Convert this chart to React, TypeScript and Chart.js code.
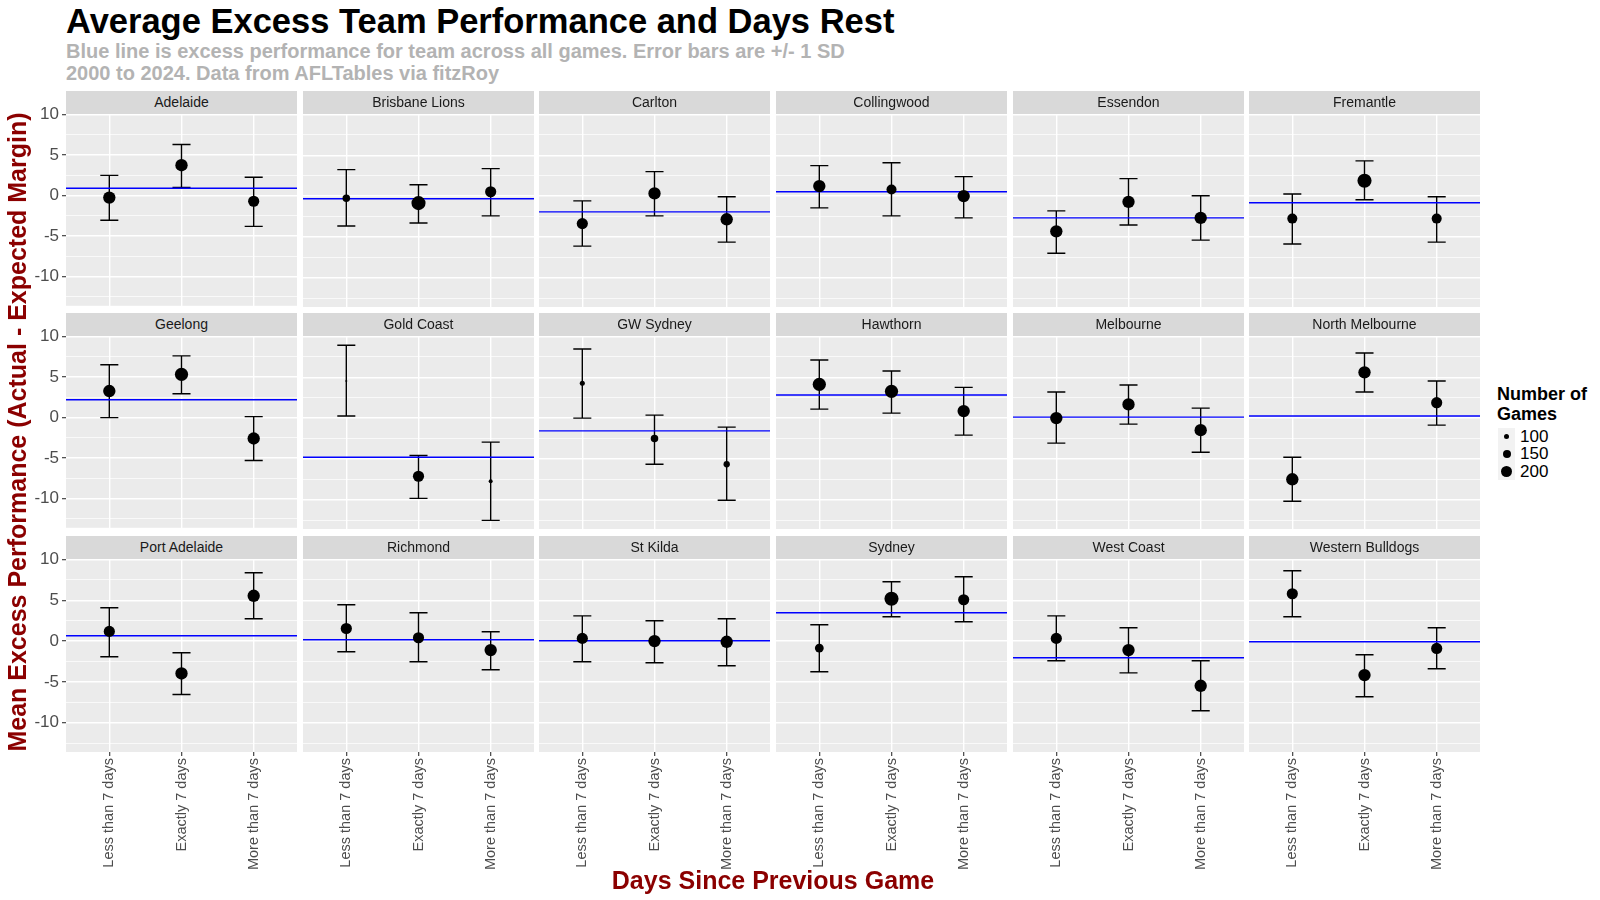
import React, { useEffect, useRef } from 'react';
import { Chart, registerables } from 'chart.js';

Chart.register(...registerables);

// ---------------- DATA ----------------
const teams = [
  'Adelaide', 'Brisbane Lions', 'Carlton', 'Collingwood', 'Essendon', 'Fremantle',
  'Geelong', 'Gold Coast', 'GW Sydney', 'Hawthorn', 'Melbourne', 'North Melbourne',
  'Port Adelaide', 'Richmond', 'St Kilda', 'Sydney', 'West Coast', 'Western Bulldogs',
];
const categories = ['Less than 7 days', 'Exactly 7 days', 'More than 7 days'];

// blue line: excess performance for team across all games
const teamAverage = [0.9, -0.33, -1.93, 0.53, -2.67, -0.82, 2.21, -4.8, -1.56, 2.83, 0.12, 0.25, 0.65, 0.16, 0.04, 3.48, -2.04, -0.08];

// mean excess performance by days rest
const meanLess = [-0.25, -0.25, -3.37, 1.23, -4.32, -2.76, 3.28, 4.55, 4.26, 4.14, 0.0, -7.5, 1.19, 1.55, 0.33, -0.86, 0.33, 5.81];
const meanExactly = [3.75, -0.86, 0.33, 0.82, -0.7, 1.89, 5.33, -7.13, -2.5, 3.28, 1.68, 5.61, -3.97, 0.41, 0.0, 5.19, -1.1, -4.17];
const meanMore = [-0.7, 0.53, -2.84, 0.0, -2.67, -2.76, -2.58, -7.75, -5.66, 0.86, -1.48, 1.89, 5.56, -1.1, -0.08, 5.07, -5.48, -0.9];

// error bar bounds
const lowLess = [-3.05, -3.66, -6.13, -1.44, -7.0, -5.88, 0.0, 0.25, 0.0, 1.1, -3.07, -10.2, -1.92, -1.31, -2.54, -3.76, -2.41, 2.99];
const highLess = [2.5, 3.25, -0.58, 3.74, -1.81, 0.25, 6.52, 8.93, 8.48, 7.13, 3.2, -4.8, 4.09, 4.46, 3.1, 2.0, 3.1, 8.63];
const lowExactly = [1.0, -3.3, -2.43, -2.43, -3.54, -0.45, 2.95, -9.84, -5.66, 0.61, -0.74, 3.2, -6.54, -2.54, -2.66, 2.99, -3.89, -6.83];
const highExactly = [6.3, 1.4, 3.0, 4.1, 2.14, 4.32, 7.62, -4.59, 0.37, 5.78, 4.06, 7.99, -1.43, 3.48, 2.5, 7.28, 1.64, -1.68];
const lowMore = [-3.8, -2.43, -5.64, -2.67, -5.4, -5.64, -5.29, -12.54, -10.08, -2.09, -4.18, -0.86, 2.74, -3.52, -3.03, 2.37, -8.55, -3.39];
const highMore = [2.26, 3.37, -0.08, 2.39, 0.04, -0.08, 0.12, -2.95, -1.1, 3.77, 1.23, 4.55, 8.38, 1.15, 2.74, 7.89, -2.41, 1.64];

// number of games
const gamesLess = [228, 135, 205, 228, 228, 183, 228, 29, 87, 245, 228, 228, 205, 205, 205, 160, 205, 205];
const gamesExactly = [228, 262, 228, 183, 228, 262, 245, 205, 135, 245, 228, 228, 228, 205, 228, 262, 228, 228];
const gamesMore = [205, 205, 228, 228, 228, 183, 228, 67, 112, 228, 228, 205, 228, 228, 228, 205, 228, 205];

const yTickValues = [-12.5, -10, -7.5, -5, -2.5, 0, 2.5, 5, 7.5, 10];
const xTickValues = [1, 2, 3];
const legendGames = [100, 150, 200];

// ---------------- STYLE / LAYOUT ----------------
const FONT = '"Liberation Sans", Arial, Helvetica, sans-serif';
const COL_LEFT = [66, 303, 539, 776, 1013, 1249];
const ROW_TOP = [114, 336, 559];
const PW = 231;
const PH = 193;
const STRIP = 23;
const YAXIS_W = 66;
const XAXIS_H = 148;
const Y_MIN = -13.6;
const Y_MAX = 10.07;

const diameter = (n: number) => 0.5 + 0.052 * n;

function Panel({ index }: { index: number }) {
  const ref = useRef<HTMLCanvasElement | null>(null);
  const row = Math.floor(index / 6);
  const col = index % 6;
  const left = col === 0 ? 0 : COL_LEFT[col];
  const width = (col === 0 ? YAXIS_W : 0) + PW;
  const bottomPad = row < 2 && col === 0 ? 12 : 0;
  const height = STRIP + PH + (row === 2 ? XAXIS_H : bottomPad);

  useEffect(() => {
    if (!ref.current) return;
    const means = [meanLess[index], meanExactly[index], meanMore[index]];
    const lows = [lowLess[index], lowExactly[index], lowMore[index]];
    const highs = [highLess[index], highExactly[index], highMore[index]];
    const games = [gamesLess[index], gamesExactly[index], gamesMore[index]];
    const avg = teamAverage[index];

    const bgPlugin = {
      id: 'panelBg',
      beforeDraw(chart: any) {
        const { ctx, chartArea } = chart;
        ctx.save();
        ctx.fillStyle = '#EBEBEB';
        ctx.fillRect(chartArea.left, chartArea.top, chartArea.right - chartArea.left, chartArea.bottom - chartArea.top);
        ctx.restore();
      },
    };

    const errorBarPlugin = {
      id: 'errorBars',
      beforeDatasetsDraw(chart: any) {
        const { ctx } = chart;
        const xs = chart.scales.x;
        const ys = chart.scales.y;
        const half = xs.getPixelForValue(1.125) - xs.getPixelForValue(1);
        ctx.save();
        ctx.strokeStyle = '#000000';
        ctx.lineWidth = 1.4;
        for (let i = 0; i < 3; i++) {
          const px = xs.getPixelForValue(i + 1);
          const yl = ys.getPixelForValue(lows[i]);
          const yh = ys.getPixelForValue(highs[i]);
          ctx.beginPath();
          ctx.moveTo(px, yl);
          ctx.lineTo(px, yh);
          ctx.moveTo(px - half, yl);
          ctx.lineTo(px + half, yl);
          ctx.moveTo(px - half, yh);
          ctx.lineTo(px + half, yh);
          ctx.stroke();
        }
        ctx.restore();
      },
    };

    const isMajor = (ctx: any) => ctx.tick && Math.abs(ctx.tick.value % 5) < 1e-9;

    const chart = new Chart(ref.current, {
      type: 'scatter',
      data: {
        datasets: [
          {
            type: 'scatter',
            data: means.map((y, i) => ({ x: xTickValues[i], y })),
            pointRadius: games.map((g) => diameter(g) / 2),
            pointHoverRadius: games.map((g) => diameter(g) / 2),
            backgroundColor: '#000000',
            borderWidth: 0,
          } as any,
          {
            type: 'line',
            data: [{ x: 0.4, y: avg }, { x: 3.6, y: avg }],
            borderColor: '#0000FF',
            borderWidth: 1.4,
            pointRadius: 0,
            fill: false,
          } as any,
        ],
      },
      options: {
        animation: false,
        responsive: false,
        events: [],
        layout: { autoPadding: false, padding: { top: STRIP, bottom: bottomPad, left: 0, right: 0 } },
        plugins: { legend: { display: false }, tooltip: { enabled: false }, title: { display: false } },
        scales: {
          x: {
            type: 'linear',
            min: 0.4,
            max: 3.6,
            afterBuildTicks: (s: any) => { s.ticks = xTickValues.map((v) => ({ value: v })); },
            afterFit: (s: any) => { s.height = row === 2 ? XAXIS_H : 0; },
            border: { display: false },
            grid: {
              color: '#FFFFFF',
              lineWidth: 1.4,
              drawTicks: row === 2,
              tickLength: 4,
              tickColor: '#333333',
              tickWidth: 1.1,
            },
            ticks: {
              display: row === 2,
              autoSkip: false,
              maxRotation: 90,
              minRotation: 90,
              padding: 2,
              color: '#4D4D4D',
              font: { family: FONT, size: 14.5 },
              callback: (v: any) => categories[Math.round(Number(v)) - 1] ?? '',
            },
          },
          y: {
            type: 'linear',
            min: Y_MIN,
            max: Y_MAX,
            afterBuildTicks: (s: any) => { s.ticks = yTickValues.map((v) => ({ value: v })); },
            afterFit: (s: any) => { s.width = col === 0 ? YAXIS_W : 0; },
            border: { display: false },
            grid: {
              color: '#FFFFFF',
              lineWidth: (ctx: any) => (isMajor(ctx) ? 1.4 : 0.7),
              drawTicks: col === 0,
              tickLength: 4,
              tickColor: (ctx: any) => (isMajor(ctx) ? '#333333' : 'rgba(0,0,0,0)'),
              tickWidth: 1.1,
            },
            ticks: {
              display: col === 0,
              autoSkip: false,
              padding: 3,
              color: '#4D4D4D',
              font: { family: FONT, size: 17 },
              callback: (v: any) => (Math.abs(Number(v) % 5) < 1e-9 ? String(v) : ''),
            },
          },
        },
      } as any,
      plugins: [bgPlugin, errorBarPlugin],
    });
    return () => chart.destroy();
  }, [index]);

  return (
    <canvas
      ref={ref}
      width={width}
      height={height}
      style={{ position: 'absolute', left, top: ROW_TOP[row] - STRIP, width, height }}
    />
  );
}

export default function App() {
  return (
    <div
      style={{
        position: 'absolute',
        left: 0,
        top: 0,
        width: 1600,
        height: 900,
        background: '#FFFFFF',
        overflow: 'hidden',
        fontFamily: FONT,
      }}
    >
      <div style={{ position: 'absolute', left: 66, top: 4, fontSize: 34.5, lineHeight: '34.5px', fontWeight: 'bold', color: '#000000', whiteSpace: 'nowrap' }}>
        Average Excess Team Performance and Days Rest
      </div>
      <div style={{ position: 'absolute', left: 66, top: 40, fontSize: 20, lineHeight: '22px', fontWeight: 'bold', color: '#B3B3B3', whiteSpace: 'nowrap' }}>
        Blue line is excess performance for team across all games. Error bars are +/- 1 SD
        <br />
        2000 to 2024. Data from AFLTables via fitzRoy
      </div>

      {teams.map((_, i) => (
        <Panel key={i} index={i} />
      ))}

      {teams.map((t, i) => {
        const row = Math.floor(i / 6);
        const col = i % 6;
        return (
          <div
            key={'s' + i}
            style={{
              position: 'absolute',
              left: COL_LEFT[col],
              top: ROW_TOP[row] - STRIP,
              width: PW,
              height: STRIP,
              background: '#D9D9D9',
              color: '#1A1A1A',
              fontSize: 14,
              lineHeight: STRIP + 'px',
              textAlign: 'center',
              whiteSpace: 'nowrap',
            }}
          >
            {t}
          </div>
        );
      })}

      <div
        style={{
          position: 'absolute',
          left: 17 - 350,
          top: 432 - 15,
          width: 700,
          height: 30,
          lineHeight: '30px',
          textAlign: 'center',
          fontSize: 25,
          fontWeight: 'bold',
          color: '#8B0000',
          whiteSpace: 'nowrap',
          transform: 'rotate(-90deg)',
          transformOrigin: '50% 50%',
        }}
      >
        Mean Excess Performance (Actual - Expected Margin)
      </div>
      <div
        style={{
          position: 'absolute',
          left: 773 - 300,
          top: 865,
          width: 600,
          lineHeight: '30px',
          textAlign: 'center',
          fontSize: 25,
          fontWeight: 'bold',
          color: '#8B0000',
          whiteSpace: 'nowrap',
        }}
      >
        Days Since Previous Game
      </div>

      <div style={{ position: 'absolute', left: 1497, top: 385, fontSize: 18, lineHeight: '19.5px', fontWeight: 'bold', color: '#000000', whiteSpace: 'nowrap' }}>
        Number of
        <br />
        Games
      </div>
      {legendGames.map((g, i) => {
        const d = diameter(g);
        const top = 428 + i * 17.3;
        return (
          <React.Fragment key={'l' + g}>
            <div style={{ position: 'absolute', left: 1498, top, width: 17.3, height: 17.3, background: '#F2F2F2' }} />
            <div
              style={{
                position: 'absolute',
                left: 1498 + 8.65 - d / 2,
                top: top + 8.65 - d / 2,
                width: d,
                height: d,
                borderRadius: '50%',
                background: '#000000',
              }}
            />
            <div style={{ position: 'absolute', left: 1520, top, fontSize: 17, lineHeight: '17.3px', color: '#000000' }}>{g}</div>
          </React.Fragment>
        );
      })}
    </div>
  );
}
